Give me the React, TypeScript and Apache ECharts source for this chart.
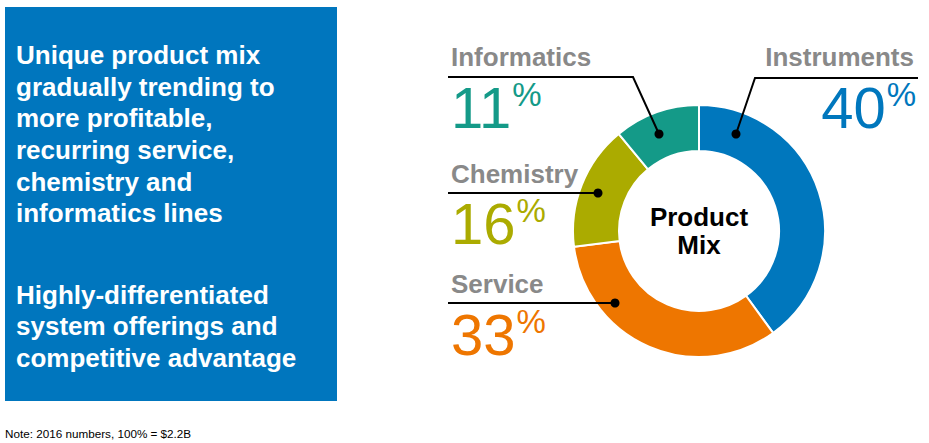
import React, { useEffect, useRef } from "react";
import * as echarts from "echarts";

const categories = ["Instruments", "Service", "Chemistry", "Informatics"];
const shares = [40, 33, 16, 11];
const sliceColors = ["#0077BD", "#EE7600", "#ABAB00", "#149A88"];
const bulletText1 = [
  "Unique product mix",
  "gradually trending to",
  "more profitable,",
  "recurring service,",
  "chemistry and",
  "informatics lines",
];
const bulletText2 = [
  "Highly-differentiated",
  "system offerings and",
  "competitive advantage",
];
const noteText = "Note: 2016 numbers, 100% = $2.2B";
const centerText = ["Product", "Mix"];

const FONT = 'Arial, "Liberation Sans", Helvetica, sans-serif';

// callout layout per category (positions only)
const callouts: Record<string, any> = {
  Instruments: { align: "right", tx: 914, ty: 57, nx: 916, ny: 107, line: [[918, 78], [755, 78], [736, 134]], dot: [736, 134] },
  Informatics: { align: "left", tx: 451, ty: 57, nx: 451, ny: 107, line: [[448, 77], [633, 77], [659, 134]], dot: [659, 134] },
  Chemistry: { align: "left", tx: 451, ty: 174, nx: 451, ny: 223, line: [[448, 193], [598, 193]], dot: [598, 193] },
  Service: { align: "left", tx: 451, ty: 284, nx: 451, ny: 334, line: [[448, 303], [615, 303]], dot: [615, 303] },
};

export default function App() {
  const ref = useRef<HTMLDivElement>(null);
  useEffect(() => {
    if (!ref.current) return;
    const chart = echarts.init(ref.current, null, { renderer: "svg" });
    const graphics: any[] = [
      { type: "rect", shape: { x: 5, y: 7, width: 332, height: 394 }, style: { fill: "#0076BE" }, z: 0 },
      {
        type: "text", x: 16, y: 39,
        style: { text: bulletText1.join("\n"), fill: "#fff", font: `bold 26px ${FONT}`, lineHeight: 31.7, textAlign: "left", textVerticalAlign: "top" },
      },
      {
        type: "text", x: 16, y: 279,
        style: { text: bulletText2.join("\n"), fill: "#fff", font: `bold 26px ${FONT}`, lineHeight: 31.6, textAlign: "left", textVerticalAlign: "top" },
      },
      {
        type: "text", x: 5, y: 433,
        style: { text: noteText, fill: "#000", font: `11.7px ${FONT}`, textAlign: "left", textVerticalAlign: "middle" },
      },
      {
        type: "text", x: 699, y: 217,
        style: { text: centerText[0], fill: "#000", font: `bold 26px ${FONT}`, textAlign: "center", textVerticalAlign: "middle" },
      },
      {
        type: "text", x: 699, y: 245,
        style: { text: centerText[1], fill: "#000", font: `bold 26px ${FONT}`, textAlign: "center", textVerticalAlign: "middle" },
      },
    ];
    categories.forEach((c, i) => {
      const co = callouts[c];
      graphics.push({
        type: "text", x: co.tx, y: co.ty,
        style: { text: c, fill: "#898989", font: `bold 26px ${FONT}`, textAlign: co.align, textVerticalAlign: "middle" },
      });
      graphics.push({
        type: "text", x: co.nx, y: co.ny,
        style: {
          text: `{n|${shares[i]}}{p|%}`,
          textAlign: co.align, textVerticalAlign: "middle",
          rich: {
            n: { fontSize: 58, fontFamily: FONT, fill: sliceColors[i], lineHeight: 58, verticalAlign: "bottom" },
            p: { fontSize: 33, fontFamily: FONT, fill: sliceColors[i], lineHeight: 58, verticalAlign: "top", padding: [0, 0, 0, 1] },
          },
        },
      });
      graphics.push({
        type: "polyline", shape: { points: co.line }, style: { stroke: "#000", lineWidth: 2, fill: null }, z: 10,
      });
      graphics.push({
        type: "circle", shape: { cx: co.dot[0], cy: co.dot[1], r: 4.5 }, style: { fill: "#000" }, z: 11,
      });
    });

    chart.setOption({
      animation: false,
      series: [
        {
          type: "pie",
          center: [699, 231],
          radius: [80, 126],
          startAngle: 90,
          clockwise: true,
          label: { show: false },
          labelLine: { show: false },
          emphasis: { disabled: true },
          itemStyle: { borderColor: "#fff", borderWidth: 2 },
          data: categories.map((c, i) => ({ name: c, value: shares[i], itemStyle: { color: sliceColors[i] } })),
          z: 1,
        },
      ],
      graphic: { elements: graphics },
    });
    return () => chart.dispose();
  }, []);
  return <div ref={ref} style={{ position: "fixed", left: 0, top: 0, width: 929, height: 443, background: "#fff" }} />;
}
